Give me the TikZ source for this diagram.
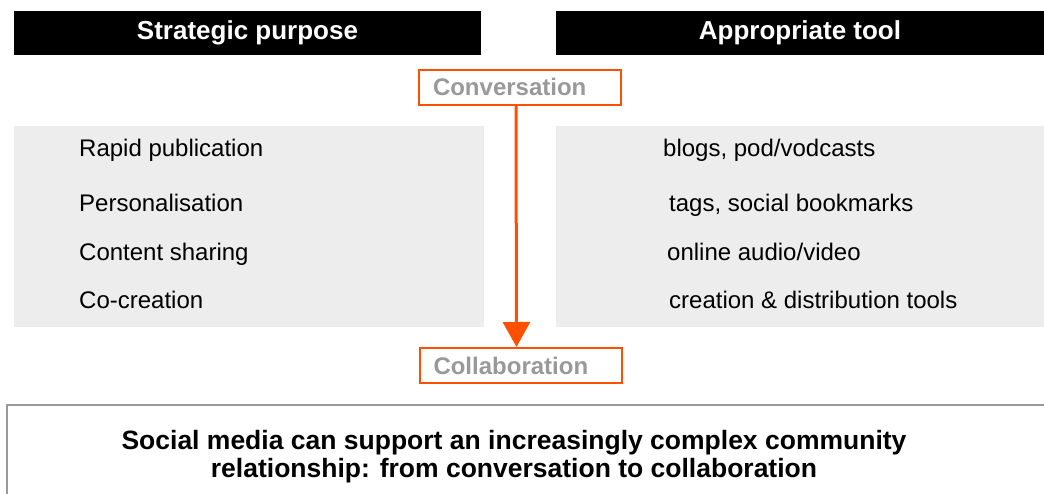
\documentclass[tikz,border=0pt]{standalone}
\usepackage{fontspec}
\setmainfont{Liberation Sans}
\usetikzlibrary{arrows.meta,positioning}
\definecolor{sorange}{HTML}{FF5000}
\definecolor{spanel}{HTML}{EDEDED}
\definecolor{sgrey}{HTML}{999999}
\tikzset{
  headbox/.style={fill=black, text=white, font=\fontsize{26}{30}\selectfont\bfseries, inner sep=0pt},
  stagebox/.style={draw=sorange, line width=2pt, fill=white, text=sgrey, font=\fontsize{24}{28}\selectfont\bfseries,
    minimum height=35pt, text width=174pt, inner xsep=14pt, inner ysep=0pt, align=left},
  item/.style={anchor=base west, inner sep=0pt, font=\fontsize{24}{28}\selectfont}
}
\begin{document}
\begin{tikzpicture}[x=1pt, y=-1pt, >={Triangle[width=27pt,length=25pt]}]
    \useasboundingbox (0,0) rectangle (1044,493);
    % headers
    \node[headbox, minimum width=467pt, minimum height=44pt] (hpurpose) at (247.5,33) {Strategic purpose};
    \node[headbox, minimum width=488pt, minimum height=44pt] (htool) at (800,33) {Appropriate tool};
    % grey panels
    \fill[spanel] (14,126) rectangle (484,327);
    \fill[spanel] (556,126) rectangle (1044,327);
    % stages
    \node[stagebox] (conv) at (520,87) {Conversation};
    \node[stagebox] (collab) at (520.5,365.5) {Collaboration};
    \draw[->, sorange, line width=3pt] ([xshift=-4pt]conv.south) -- ([xshift=-4pt]collab.north);
    % purposes and tools
    \node[item] (p1) at (79,156) {Rapid publication};
    \node[item] (p2) at (79,211) {Personalisation};
    \node[item] (p3) at (79,260) {Content sharing};
    \node[item] (p4) at (79,308) {Co-creation};
    \node[item] (t1) at (663,156) {blogs, pod/vodcasts};
    \node[item] (t2) at (669,211) {tags, social bookmarks};
    \node[item] (t3) at (667,260) {online audio/video};
    \node[item] (t4) at (669,308) {creation \& distribution tools};
    % summary
    \draw[sgrey, line width=2pt] (7,405) rectangle (1060,520);
    \node[align=center, inner sep=0pt, font=\fontsize{26.5}{28}\selectfont\bfseries] (summary) at (514,457)
      {Social media can support an increasingly complex community\\relationship: from conversation to collaboration};
\end{tikzpicture}
\end{document}
